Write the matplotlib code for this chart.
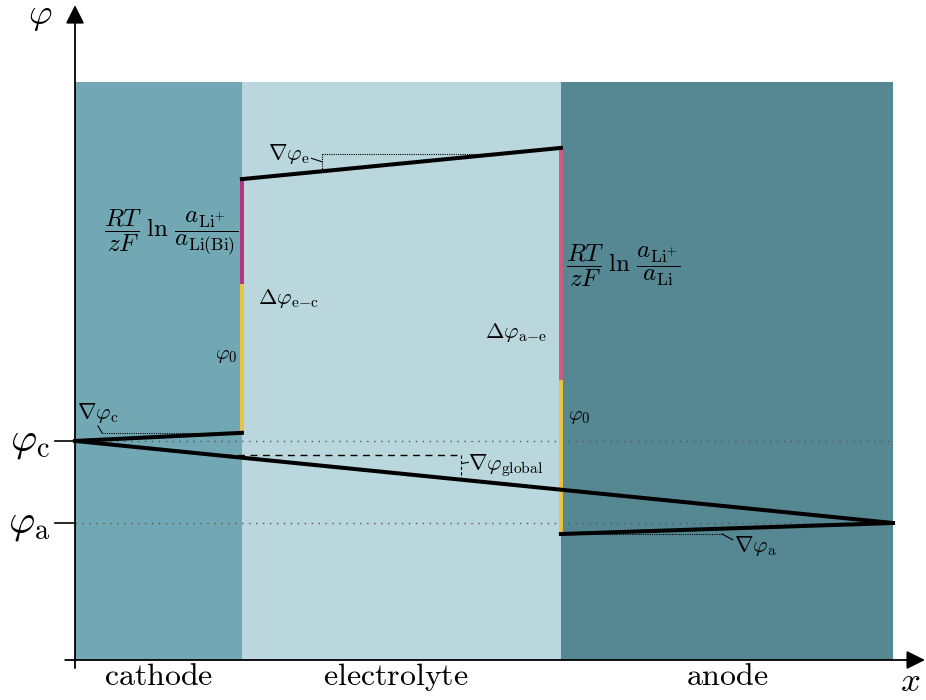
import numpy as np
import matplotlib.pyplot as plt

plt.rcParams["mathtext.fontset"] = "cm"

# positions along x (cathode | electrolyte | anode)
x_bounds = [0.0, 2.04, 5.94, 10.0]
region_names = ["cathode", "electrolyte", "anode"]
label_x = [1.02, 3.92, 7.98]
region_colors = ["#72a8b4", "#b9d7dc", "#568893"]
phi_top = 10.0

# potential levels
phi_c = 3.79
phi_a = 2.37
phi_cath_end = 3.93      # cathode side of cathode/electrolyte interface
phi0_ec_top = 6.54       # end of phi_0 part (cathode interface)
phi_elec_left = 8.32
phi_elec_right = 8.86
phi0_ae_top = 4.81       # end of ln part (anode interface)
phi_anode_left = 2.18

yellow = "#f0c23e"
mag_left = "#b5317f"
mag_right = "#d4597c"

fig = plt.figure(figsize=(9.26, 7), dpi=100)
ax = fig.add_axes([0, 0, 1, 1])
ax.set_xlim(-0.917, 10.403)
ax.set_ylim(-0.692, 11.419)
ax.axis("off")

# regions
for i, (name, col) in enumerate(zip(region_names, region_colors)):
    ax.fill_between([x_bounds[i], x_bounds[i + 1]], 0, phi_top, color=col,
                    lw=0, zorder=0)
    ax.text(label_x[i], -0.29, r"$\mathrm{%s}$" % name, ha="center",
            va="center", fontsize=23)

# reference levels
for p in [phi_c, phi_a]:
    ax.plot([0, x_bounds[3]], [p, p], ls=(0, (1, 4)), color="#555555",
            lw=1.0, zorder=1)
    ax.plot([-0.244, 0], [p, p], color="k", lw=1.2, zorder=3)
ax.text(-0.30, phi_c, r"$\varphi_\mathrm{c}$", ha="right", va="center",
        fontsize=29)
ax.text(-0.30, phi_a, r"$\varphi_\mathrm{a}$", ha="right", va="center",
        fontsize=29)

# global line
ax.plot([x_bounds[0], x_bounds[3]], [phi_c, phi_a], color="k", lw=2.9,
        zorder=4, solid_capstyle="butt")

# local potentials
ax.plot([x_bounds[0], x_bounds[1]], [phi_c, phi_cath_end], color="k", lw=2.9,
        zorder=4)
ax.plot([x_bounds[1], x_bounds[2]], [phi_elec_left, phi_elec_right],
        color="k", lw=2.9, zorder=4)
ax.plot([x_bounds[2], x_bounds[3]], [phi_anode_left, phi_a], color="k",
        lw=2.9, zorder=4)

# interface jumps
ax.plot([x_bounds[1]] * 2, [phi_cath_end, phi0_ec_top], color=yellow, lw=2.8,
        zorder=3)
ax.plot([x_bounds[1]] * 2, [phi0_ec_top, phi_elec_left], color=mag_left,
        lw=2.8, zorder=3)
ax.plot([x_bounds[2]] * 2, [phi_elec_right, phi0_ae_top], color=mag_right,
        lw=2.8, zorder=3)
ax.plot([x_bounds[2]] * 2, [phi0_ae_top, phi_anode_left], color=yellow,
        lw=2.8, zorder=3)

dot = dict(ls=(0, (1, 1)), color="k", lw=0.8, zorder=3)

# gradient markers
# electrolyte
xe = 3.02
ye = 8.754
xe_end = x_bounds[1] + (ye - phi_elec_left) / (phi_elec_right - phi_elec_left) \
    * (x_bounds[2] - x_bounds[1])
ye_line = np.interp(xe, [x_bounds[1], x_bounds[2]], [phi_elec_left, phi_elec_right])
ax.plot([xe, xe_end], [ye, ye], **dot)
ax.plot([xe, xe], [ye, ye_line], **dot)
ax.plot([2.89, xe], [8.68, 8.62], color="k", lw=0.8)
ax.text(2.36, 8.76, r"$\nabla\varphi_\mathrm{e}$", ha="left", va="center",
        fontsize=16)

# cathode
ax.plot([0.33, x_bounds[1]], [phi_cath_end, phi_cath_end], **dot)
ax.plot([0.28, 0.33], [4.05, phi_cath_end], color="k", lw=0.8)
ax.text(0.02, 4.27, r"$\nabla\varphi_\mathrm{c}$", ha="left", va="center",
        fontsize=16)

# anode
ax.plot([6.26, 7.91], [phi_anode_left, phi_anode_left], **dot)
ax.plot([7.91, 8.04], [phi_anode_left, 2.08], color="k", lw=0.8)
ax.text(8.06, 1.98, r"$\nabla\varphi_\mathrm{a}$", ha="left", va="center",
        fontsize=16)

# global
yg = 3.547
xg = 4.719
yg_line = np.interp(xg, [x_bounds[0], x_bounds[3]], [phi_c, phi_a])
ax.plot([1.834, xg], [yg, yg], ls=(0, (5, 4)), color="k", lw=1.0, zorder=3)
ax.plot([xg, xg], [yg, yg_line], ls=(0, (3, 2)), color="k", lw=0.8, zorder=3)
ax.plot([xg + 0.01, xg + 0.09], [3.4, 3.42], color="k", lw=0.8)
ax.text(4.8, 3.36, r"$\nabla\varphi_\mathrm{global}$", ha="left", va="center",
        fontsize=16)

# jump labels
ax.text(1.17, 7.40,
        r"$\dfrac{RT}{zF}\;\ln\,\dfrac{a_{\mathrm{Li}^{+}}}{a_{\mathrm{Li(Bi)}}}$",
        ha="center", va="center", fontsize=18)
ax.text(6.0, 6.83,
        r"$\dfrac{RT}{zF}\;\ln\,\dfrac{a_{\mathrm{Li}^{+}}}{a_{\mathrm{Li}}}$",
        ha="left", va="center", fontsize=18)
ax.text(2.24, 6.26, r"$\Delta\varphi_{\mathrm{e}\!-\!\mathrm{c}}$", ha="left",
        va="center", fontsize=16)
ax.text(5.01, 5.67, r"$\Delta\varphi_{\mathrm{a}\!-\!\mathrm{e}}$", ha="left",
        va="center", fontsize=16)
ax.text(1.98, 5.28, r"$\varphi_0$", ha="right", va="center", fontsize=15)
ax.text(6.03, 4.22, r"$\varphi_0$", ha="left", va="center", fontsize=15)

# axes with arrows
ax.annotate("", xy=(0, 11.33), xytext=(0, -0.14),
            arrowprops=dict(arrowstyle="-|>", lw=1.3, color="k",
                            mutation_scale=28, shrinkA=0, shrinkB=0))
ax.annotate("", xy=(10.39, 0), xytext=(-0.12, 0),
            arrowprops=dict(arrowstyle="-|>", lw=1.3, color="k",
                            mutation_scale=28, shrinkA=0, shrinkB=0))
ax.text(-0.43, 11.15, r"$\varphi$", ha="center", va="center", fontsize=26)
ax.text(10.21, -0.36, r"$x$", ha="center", va="center", fontsize=25)

fig.savefig("out.png", dpi=100)
